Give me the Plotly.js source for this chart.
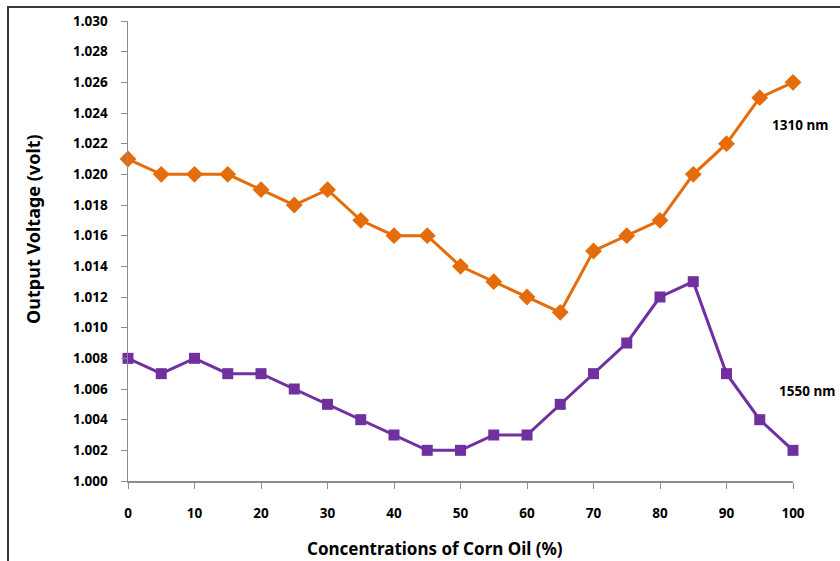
<!DOCTYPE html>
<html>
<head>
<meta charset="utf-8">
<script src="https://cdn.plot.ly/plotly-3.0.1.min.js"></script>
<style>
html,body{margin:0;padding:0;background:#fff;}
#frame{position:absolute;left:7px;top:6px;width:900px;height:700px;border-left:2px solid #3a3a3a;border-top:2px solid #3a3a3a;}
#chart{position:absolute;left:0;top:0;width:840px;height:561px;}
</style>
</head>
<body>
<div id="frame"></div>
<div id="chart"></div>
<script>
const concentration = [0,5,10,15,20,25,30,35,40,45,50,55,60,65,70,75,80,85,90,95,100];
const v1310 = [1.021,1.020,1.020,1.020,1.019,1.018,1.019,1.017,1.016,1.016,1.014,1.013,1.012,1.011,1.015,1.016,1.017,1.020,1.022,1.025,1.026];
const v1550 = [1.008,1.007,1.008,1.007,1.007,1.006,1.005,1.004,1.003,1.002,1.002,1.003,1.003,1.005,1.007,1.009,1.012,1.013,1.007,1.004,1.002];
const seriesNames = ['1310 nm','1550 nm'];
const xTicks = [0,10,20,30,40,50,60,70,80,90,100];
const xTitle = 'Concentrations of Corn Oil (%)';
const yTitle = 'Output Voltage (volt)';

const tickFont = {family:'"Noto Sans", sans-serif', size:13.5, color:'#000', weight:'bold'};

const traces = [
  {x:concentration, y:v1310, name:seriesNames[0], mode:'lines+markers', cliponaxis:false,
   line:{color:'#E46C0A', width:3}, marker:{symbol:'diamond', size:13, color:'#E46C0A'}},
  {x:concentration, y:v1550, name:seriesNames[1], mode:'lines+markers', cliponaxis:false,
   line:{color:'#7030A0', width:3}, marker:{symbol:'square', size:11, color:'#7030A0'}}
];

const layout = {
  width:840, height:561,
  margin:{l:128, r:47, t:21, b:80},
  paper_bgcolor:'rgba(0,0,0,0)', plot_bgcolor:'rgba(0,0,0,0)',
  showlegend:false,
  xaxis:{range:[0,100], tickvals:xTicks, ticktext:xTicks.map(String), showgrid:false, zeroline:false,
    showline:true, linecolor:'#8c8c8c', linewidth:1.5, ticks:'outside', ticklen:6, tickcolor:'#8c8c8c',
    tickfont:tickFont, ticklabelstandoff:13},
  yaxis:{range:[1.000,1.030], dtick:0.002, tick0:1.000, tickformat:'.3f', showgrid:false, zeroline:false,
    showline:true, linecolor:'#8c8c8c', linewidth:1.5, ticks:'outside', ticklen:6, tickcolor:'#8c8c8c',
    tickfont:tickFont, ticklabelstandoff:10},
  annotations:[
    {x:0.4617, xref:'paper', xanchor:'center', y:0, yref:'paper', yshift:-67, yanchor:'middle', text:xTitle, showarrow:false,
     font:{family:'"Noto Sans", sans-serif', size:17, color:'#000', weight:'bold'}},
    {x:0, xref:'paper', xshift:-95, xanchor:'center', y:0.548, yref:'paper', yanchor:'middle', textangle:-90, text:yTitle, showarrow:false,
     font:{family:'"Noto Sans", sans-serif', size:18, color:'#000', weight:'bold'}},
    {x:1, xref:'paper', xshift:37, xanchor:'right', y:1.0232, yref:'y', text:seriesNames[0], showarrow:false,
     font:{family:'"Noto Sans", sans-serif', size:13.5, color:'#000', weight:'bold'}},
    {x:1, xref:'paper', xshift:44, xanchor:'right', y:1.0059, yref:'y', text:seriesNames[1], showarrow:false,
     font:{family:'"Noto Sans", sans-serif', size:13.5, color:'#000', weight:'bold'}}
  ]
};

Plotly.newPlot('chart', traces, layout, {displayModeBar:false, staticPlot:true});
</script>
</body>
</html>
